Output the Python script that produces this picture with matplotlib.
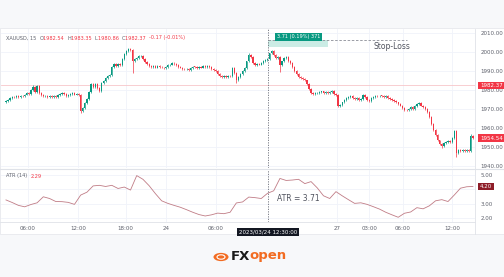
import numpy as np
import matplotlib.pyplot as plt
from matplotlib.patches import Rectangle, Circle

# ---- data ----
closes = [
    1974.2, 1974.8, 1976.0, 1976.5, 1976.2, 1976.8, 1976.5, 1977.0, 1976.7, 1977.6,
    1978.2, 1977.8, 1979.8, 1981.6, 1979.0, 1981.9, 1978.2, 1977.4, 1976.6, 1976.9,
    1976.3, 1976.6, 1976.1, 1976.8, 1976.4, 1977.2, 1978.0, 1978.6, 1977.9, 1977.0,
    1977.3, 1977.8, 1978.3, 1977.6, 1978.1, 1977.5, 1969.0, 1970.5, 1973.0, 1975.2,
    1979.0, 1983.0, 1981.5, 1983.2, 1981.0, 1979.5, 1983.5, 1984.8, 1986.5, 1987.2,
    1988.0, 1992.3, 1993.5, 1992.6, 1993.8, 1993.0, 1996.5, 1999.0, 2000.5, 2001.8,
    2001.0, 1995.0, 1996.4, 1996.8, 1997.8, 1998.0, 1996.5, 1994.6, 1993.5, 1992.8,
    1992.0, 1992.6, 1991.8, 1992.4, 1992.0,
    1991.8, 1991.4, 1992.2, 1993.0, 1993.4, 1994.0, 1993.8, 1993.0, 1992.2, 1991.8,
    1991.2, 1990.8, 1991.0, 1990.6, 1991.5, 1992.2, 1992.0, 1991.4, 1992.3, 1991.8,
    1992.4, 1992.0, 1992.5, 1991.9, 1991.0, 1990.4, 1990.0, 1988.6, 1987.5, 1987.0,
    1987.4, 1986.9, 1987.6, 1987.2, 1991.7, 1989.0, 1985.2, 1986.8, 1988.4, 1989.8,
    1991.6, 1995.0, 1998.6, 1997.2, 1994.2, 1993.2, 1993.8, 1993.4, 1994.2, 1995.2,
    1996.0, 1996.4, 1999.2, 2000.4, 1998.6, 1996.8, 1997.4, 1993.0, 1995.0, 1996.8,
    1997.2, 1995.4, 1994.2, 1992.0, 1990.0, 1988.6, 1987.0, 1986.2, 1985.6, 1985.0,
    1983.0, 1980.6, 1978.4, 1977.8, 1978.2,
    1978.2, 1978.8, 1979.2, 1978.6, 1978.9, 1978.2, 1978.8, 1979.4, 1978.0, 1977.2,
    1971.4, 1972.2, 1973.4, 1974.6, 1975.6, 1976.2, 1976.6, 1975.8, 1975.2, 1975.6,
    1974.8, 1975.4, 1977.6, 1976.2, 1974.8, 1974.4, 1975.6, 1976.2, 1977.0, 1976.6,
    1977.0, 1976.8, 1976.4, 1976.6, 1975.8, 1975.2, 1974.6, 1974.2, 1973.4, 1972.6,
    1971.8, 1970.4, 1969.6, 1969.2, 1970.2, 1970.8, 1969.8, 1971.6, 1972.6, 1973.0,
    1971.8, 1970.8, 1970.2, 1968.6, 1965.8, 1962.0, 1958.8, 1956.2, 1953.4, 1951.6,
    1950.4, 1952.2, 1952.8, 1953.2, 1952.6, 1954.8, 1958.2, 1947.0, 1948.6, 1947.6,
    1948.2, 1947.8, 1948.6, 1948.0, 1955.6, 1954.54,
]
first_open = 1973.6
wick_highs = {13: 1982.4, 15: 1982.6, 59: 2002.3, 117: 1999.2, 128: 2001.0, 224: 1956.6}
wick_lows = {36: 1967.8, 61: 1989.0, 111: 1983.5, 132: 1989.6, 160: 1970.8,
             210: 1949.5, 217: 1944.8}

atr_idx = list(range(0, 226, 3))
atr_vals = [
    3.26, 3.08, 2.88, 2.78, 2.94, 3.06, 3.48, 3.36, 3.15, 3.14,
    3.09, 2.95, 3.60, 3.80, 4.24, 4.28, 4.20, 4.28, 4.06, 4.16,
    3.95, 4.96, 4.70, 4.25, 3.70, 3.20, 3.02, 2.88, 2.75, 2.58,
    2.40, 2.24, 2.14, 2.22, 2.34, 2.30, 2.40, 3.05, 3.12, 3.46,
    3.42, 3.36, 3.72, 3.90, 4.76, 4.62, 4.65, 4.70, 4.40, 4.54,
    4.10, 3.55, 3.36, 3.84, 3.55, 3.28, 3.02, 3.06, 2.95, 2.79,
    2.62, 2.40, 2.22, 2.05, 2.33, 2.42, 2.72, 2.64, 2.85, 3.20,
    3.28, 3.15, 3.60, 4.08, 4.18, 4.20,
]

tick_pos = [10.6, 34.6, 57.7, 77, 101, 159.6, 175, 191.3, 214.9]
tick_labels = ["06:00", "12:00", "18:00", "24", "06:00", "27", "03:00", "06:00", "12:00"]
price_ticks = [1940, 1950, 1960, 1970, 1980, 1990, 2000, 2010]
atr_ticks = [2, 3, 5]
cross_i = 126.3
stop_level = 2006.3
entry_level = 2002.6
last_ref = 1982.37

GREEN = "#089981"
RED = "#f23645"
GRID = "#f0f3fa"
TXT = "#5d606b"

W, H = 504, 277
fig = plt.figure(figsize=(W / 100, H / 100), dpi=100)
fig.patch.set_facecolor("#f7f8fa")
fig.patches.append(Rectangle((0, 1 - 234 / H), 1, (234 - 28) / H, transform=fig.transFigure,
                             facecolor="white", edgecolor="#e3e5ea", lw=0.5, zorder=-5))


def px_axes(x0, y0, x1, y1):
    a = fig.add_axes([x0 / W, 1 - y1 / H, (x1 - x0) / W, (y1 - y0) / H])
    a.set_zorder(2)
    a.patch.set_alpha(0)
    return a


ax = px_axes(1, 29, 475, 168)
ax2 = px_axes(1, 170, 475, 222)

n = len(closes)
x = np.arange(n)
c = np.array(closes)
o = np.concatenate([[first_open], c[:-1]])
hi = np.maximum(o, c) + 0.5
lo = np.minimum(o, c) - 0.5
for k, v in wick_highs.items():
    hi[k] = v
for k, v in wick_lows.items():
    lo[k] = v
cols = np.where(c >= o, GREEN, RED)
body = np.where(np.abs(c - o) < 0.25, 0.25, c - o)

ax.vlines(x, lo, hi, colors=cols, lw=0.5, zorder=3)
ax.bar(x, body, bottom=o, width=0.62, color=cols, lw=0, zorder=4)

xlim = (-2.4, 226.0)
for a in (ax, ax2):
    a.set_xlim(*xlim)
    for s in a.spines.values():
        s.set_visible(False)
    a.yaxis.tick_right()
    a.tick_params(axis="y", length=0, pad=4, labelsize=4, labelcolor=TXT)
    a.set_xticks(tick_pos)
    for t in tick_pos:
        a.axvline(t, color=GRID, lw=0.6, zorder=0)

ax.set_ylim(1938.9, 2012.1)
ax.set_yticks(price_ticks)
ax.set_yticklabels([f"{v:.2f}" for v in price_ticks])
for v in price_ticks:
    ax.axhline(v, color=GRID, lw=0.6, zorder=0)
ax.tick_params(axis="x", length=0, labelbottom=False)

ax2.set_ylim(1.72, 5.35)
ax2.set_yticks(atr_ticks)
ax2.set_yticklabels([f"{v:.2f}" for v in atr_ticks])
for v in [2, 3, 4, 5]:
    ax2.axhline(v, color=GRID, lw=0.6, zorder=0)
ax2.set_xticklabels(tick_labels)
ax2.tick_params(axis="x", length=0, pad=3, labelsize=4, labelcolor=TXT)
ax2.plot(atr_idx, atr_vals, color="#c07c86", lw=0.6, zorder=3)

# separators
fig.add_artist(plt.Line2D([0, 1], [1 - 169 / H] * 2, color="#dfe2e8", lw=0.8))
fig.add_artist(plt.Line2D([0, 475 / W], [1 - 222 / H] * 2, color="#dfe2e8", lw=0.6))
fig.add_artist(plt.Line2D([475 / W] * 2, [1 - 29 / H, 1 - 234 / H], color="#dfe2e8", lw=0.6))

# reference price line and price labels
ax.axhline(last_ref, color="#f7c6ca", lw=0.6, zorder=1)


def axis_tag(a, val, text, fc):
    a.annotate(text, xy=(1, val), xycoords=("axes fraction", "data"), xytext=(3.5, 0),
               textcoords="offset points", va="center", ha="left", fontsize=4, color="white",
               bbox=dict(boxstyle="square,pad=0.25", fc=fc, ec="none"), annotation_clip=False,
               zorder=10)


axis_tag(ax, last_ref, "1982.37", RED)
axis_tag(ax, closes[-1], f"{closes[-1]:.2f}", RED)
axis_tag(ax2, atr_vals[-1], f"{atr_vals[-1]:.2f}", "#8e1d28")

# crosshair and stop-loss
for a in (ax, ax2):
    a.axvline(cross_i, color="#6a6d78", lw=0.6, ls=(0, (1.5, 1.5)), zorder=5)
ax.hlines(stop_level, cross_i, 193, color="#8a8d96", lw=0.6, ls=(0, (3, 2)), zorder=5)
ax.add_patch(Rectangle((cross_i, entry_level), 29, stop_level - entry_level,
                       fc="#bfe8df", ec="none", alpha=0.8, zorder=2))
ax.text(130.5, stop_level + 0.3, "3.71 (0.19%) 371", fontsize=3.6, color="white",
        va="bottom", ha="left", zorder=6,
        bbox=dict(boxstyle="square,pad=0.35", fc=GREEN, ec="none"))
ax.text(177, stop_level - 1.2, "Stop-Loss", fontsize=5.5, color="#50535e", va="top", ha="left")
ax2.text(130.5, 3.35, "ATR = 3.71", fontsize=5.5, color="#50535e", va="center", ha="left")
ax2.annotate("2023/03/24 12:30:00", xy=(cross_i, 0), xycoords=("data", "axes fraction"),
             xytext=(0, -7.2), textcoords="offset points", ha="center", va="center",
             fontsize=4, color="white", annotation_clip=False, zorder=10,
             bbox=dict(boxstyle="square,pad=0.35", fc="#131722", ec="none"))

# legends drawn piece by piece
fig.canvas.draw()
rend = fig.canvas.get_renderer()


def chain(x_px, y_px, parts, size, weight="normal", kern=0.0):
    for s, col in parts:
        t = fig.text(x_px / W, 1 - y_px / H, s, fontsize=size, color=col, va="center",
                     ha="left", fontweight=weight)
        x_px += t.get_window_extent(rend).width - kern


chain(6, 38, [("XAUUSD, 15  ", TXT), ("O", TXT), ("1982.54  ", RED), ("H", TXT),
              ("1983.35  ", RED), ("L", TXT), ("1980.86  ", RED), ("C", TXT),
              ("1982.37  ", RED), ("-0.17 (-0.01%)", RED)], 3.6)
chain(6, 176, [("ATR (14)  ", TXT), ("2.29", RED)], 3.6)

# logo
fig.patches.append(Circle((221 / W, 1 - 257 / H), 7.5 / W, transform=fig.transFigure,
                          fc="#f26b21", ec="none"))
fig.patches.append(Circle((221 / W, 1 - 257 / H), 4 / W, transform=fig.transFigure,
                          fc="none", ec="white", lw=0.8))
chain(231, 256, [("FX", "#1a1a1a"), ("open", "#f26b21")], 9.5, "bold", kern=1.5)

fig.savefig("out.png", dpi=100, facecolor=fig.get_facecolor())
